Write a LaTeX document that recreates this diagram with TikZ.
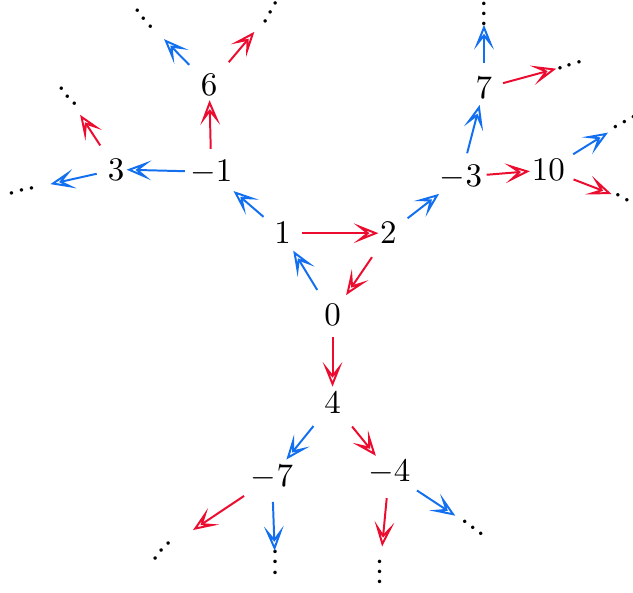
\documentclass[tikz,border=0pt]{standalone}
\usepackage{amsmath,amssymb}
\usepackage{tikz}
\usetikzlibrary{arrows.meta}
\definecolor{tred}{RGB}{235,12,48}
\definecolor{tblue}{RGB}{18,112,240}
\newcommand{\dotrow}{\ensuremath{{\cdot}\kern0.3pt{\cdot}\kern0.3pt{\cdot}}}

\begin{document}
\begin{tikzpicture}[every node/.style={inner sep=1pt}, >={Stealth[open, length=7.5pt, width=6pt, inset=3.8pt]},
	rd/.style={->, tred, line width=0.6pt}, bl/.style={->, tblue, line width=0.6pt},
	sh/.style 2 args={shorten <=#1, shorten >=#2},
	dts/.style={inner sep=0pt, text height=5pt, text depth=0pt}]
	\useasboundingbox (0,0) rectangle (6.750,6.313);
	% values
	\node (n0) at (3.546,2.954) {$0$};
	\node (n1) at (3.013,3.826) {$1$};
	\node (n2) at (4.141,3.826) {$2$};
	\node (n4) at (3.546,2.021) {$4$};
	\node (m1) at (2.253,4.480) {$-1$};
	\node (n3) at (1.237,4.506) {$3$};
	\node (n6) at (2.231,5.403) {$6$};
	\node (m3) at (4.916,4.427) {$-3$};
	\node (n10) at (5.847,4.503) {$10$};
	\node (n7) at (5.161,5.371) {$7$};
	\node (m7) at (2.901,1.224) {$-7$};
	\node (m4) at (4.150,1.278) {$-4$};
	% loose ends
	\node[dts, rotate=14] (d3l) at (0.235,4.282) {\dotrow};
	\node[dts, rotate=-50] (d3u) at (0.725,5.286) {\dotrow};
	\node[dts, rotate=-50] (d6l) at (1.536,6.114) {\dotrow};
	\node[dts, rotate=60] (d6r) at (2.885,6.178) {\dotrow};
	\node[dts, rotate=90] (d7u) at (5.161,6.164) {\dotrow};
	\node[dts, rotate=17] (d7r) at (6.078,5.620) {\dotrow};
	\node[dts, rotate=27] (d10u) at (6.665,5.012) {\dotrow};
	\node[dts, rotate=-27] (d10d) at (6.686,4.180) {\dotrow};
	\node[dts, rotate=47] (dm7l) at (1.728,0.440) {\dotrow};
	\node[dts, rotate=90] (dm7d) at (2.933,0.317) {\dotrow};
	\node[dts, rotate=90] (dm4d) at (4.049,0.212) {\dotrow};
	\node[dts, rotate=-38] (dm4r) at (5.049,0.686) {\dotrow};
	% the triangle
	\draw[rd, sh={5.8pt}{3pt}] (n1.center) -- (n2.center);
	\draw[rd, sh={8.8pt}{7.3pt}] (n2.center) -- (n0.center);
	\draw[bl, sh={8.9pt}{6.2pt}] (n0.center) -- (n1.center);
	% branches
	\draw[rd, sh={6.6pt}{4.8pt}] (n0.center) -- (n4.center);
	\draw[bl, sh={7.6pt}{8.9pt}] (n1.center) -- (m1.center);
	\draw[bl, sh={8pt}{3.2pt}] (m1.center) -- (n3.center);
	\draw[rd, sh={7pt}{4.5pt}] (m1.center) -- (n6.center);
	\draw[bl, sh={6pt}{8.8pt}] (n3.center) -- (d3l.center);
	\draw[rd, sh={8.7pt}{6.7pt}] (n3.center) -- (d3u.center);
	\draw[bl, sh={8.7pt}{8.7pt}] (n6.center) -- (d6l.center);
	\draw[rd, sh={9.2pt}{7.6pt}] (n6.center) -- (d6r.center);
	\draw[bl, sh={7.4pt}{8.4pt}] (n2.center) -- (m3.center);
	\draw[rd, sh={7.8pt}{5.6pt}] (m3.center) -- (n10.center);
	\draw[bl, sh={7.4pt}{5.2pt}] (m3.center) -- (n7.center);
	\draw[bl, sh={7.6pt}{3.3pt}] (n7.center) -- (d7u.center);
	\draw[rd, sh={6pt}{4.3pt}] (n7.center) -- (d7r.center);
	\draw[bl, sh={8.9pt}{6.1pt}] (n10.center) -- (d10u.center);
	\draw[rd, sh={8.2pt}{5pt}] (n10.center) -- (d10d.center);
	\draw[bl, sh={9.2pt}{6.9pt}] (n4.center) -- (m7.center);
	\draw[rd, sh={9.4pt}{6.4pt}] (n4.center) -- (m4.center);
	\draw[rd, sh={10.2pt}{11.3pt}] (m7.center) -- (dm7l.center);
	\draw[bl, sh={7.5pt}{3.5pt}] (m7.center) -- (dm7d.center);
	\draw[rd, sh={7.9pt}{7.8pt}] (m4.center) -- (dm4d.center);
	\draw[bl, sh={10.1pt}{6.6pt}] (m4.center) -- (dm4r.center);
\end{tikzpicture}
\end{document}
